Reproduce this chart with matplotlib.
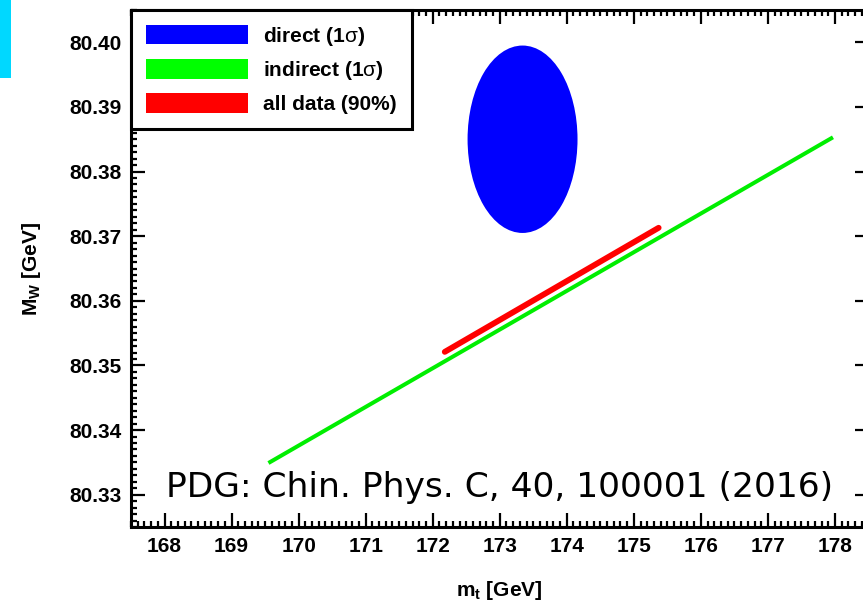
import matplotlib
matplotlib.use("Agg")
import matplotlib.pyplot as plt
from matplotlib.patches import Ellipse, Patch, Rectangle
from matplotlib.ticker import MultipleLocator

plt.rcParams["font.family"] = ["Liberation Sans", "DejaVu Sans"]
plt.rcParams["mathtext.fontset"] = "custom"
plt.rcParams["mathtext.rm"] = "Liberation Sans"
plt.rcParams["mathtext.bf"] = "Liberation Sans:bold"
plt.rcParams["mathtext.it"] = "Liberation Sans:italic"

# direct measurement (1 sigma ellipse)
direct_center = (173.34, 80.385)
direct_halfwidth = (0.82, 0.0145)

# indirect fit band (1 sigma)
indirect_mt = [169.55, 177.97]
indirect_mw = [80.3349, 80.3853]

# combined fit (90% CL)
all_mt = [172.18, 175.37]
all_mw = [80.3521, 80.3713]

xticks = [168, 169, 170, 171, 172, 173, 174, 175, 176, 177, 178]
yticks = [80.33, 80.34, 80.35, 80.36, 80.37, 80.38, 80.39, 80.40]

fig = plt.figure(figsize=(8.63, 6.02), dpi=100)
ax = fig.add_axes([131 / 863, 75 / 602, 737.5 / 863, 517 / 602])

ax.add_patch(Ellipse(direct_center, 2 * direct_halfwidth[0], 2 * direct_halfwidth[1],
                     facecolor="#0000ff", edgecolor="none"))
ax.plot(indirect_mt, indirect_mw, color="#00ee00", lw=2.9, solid_capstyle="butt")
ax.plot(all_mt, all_mw, color="#ff0000", lw=4.2, solid_capstyle="round")

ax.set_xlim(167.5, 178.5)
ax.set_ylim(80.325, 80.405)
ax.set_xticks(xticks)
ax.set_yticks(yticks)
ax.set_xticklabels([str(t) for t in xticks])
ax.set_yticklabels([f"{t:.2f}" for t in yticks])
ax.xaxis.set_minor_locator(MultipleLocator(0.1))
ax.yaxis.set_minor_locator(MultipleLocator(0.001))
ax.tick_params(which="both", direction="in", top=True, right=True, width=1.6)
ax.tick_params(which="major", length=10, labelsize=15, pad=7)
ax.tick_params(which="minor", length=4.5)
for lbl in ax.get_xticklabels() + ax.get_yticklabels():
    lbl.set_fontweight("bold")
for sp in ax.spines.values():
    sp.set_linewidth(2.2)

ax.set_xlabel(r"$\mathbf{m_t}$ [GeV]", fontsize=15, fontweight="bold", labelpad=17)
ax.set_ylabel(r"$\mathbf{M_W}$ [GeV]", fontsize=15, fontweight="bold", labelpad=19)

handles = [Patch(facecolor="#0000ff", edgecolor="none"),
           Patch(facecolor="#00ff00", edgecolor="none"),
           Patch(facecolor="#ff0000", edgecolor="none")]
labels = [r"direct (1$\mathrm{\sigma}$)", r"indirect (1$\mathrm{\sigma}$)", "all data (90%)"]
leg = ax.legend(handles, labels, loc="upper left", bbox_to_anchor=(0, 1),
                borderaxespad=0, fancybox=False, framealpha=1, edgecolor="black",
                prop={"size": 15, "weight": "bold"}, handlelength=4.9,
                handleheight=1.05, labelspacing=0.55, borderpad=0.7,
                handletextpad=0.75)
leg.get_frame().set_linewidth(2.2)

ax.text(0.5, 0.0755, "PDG: Chin. Phys. C, 40, 100001 (2016)", transform=ax.transAxes,
        fontsize=24.8, family="DejaVu Sans", ha="center", va="center")

fig.patches.append(Rectangle((0, 1 - 78 / 602), 11 / 863, 78 / 602,
                             transform=fig.transFigure, facecolor="#00d8ff",
                             edgecolor="none"))

fig.savefig("out.png", dpi=100)
